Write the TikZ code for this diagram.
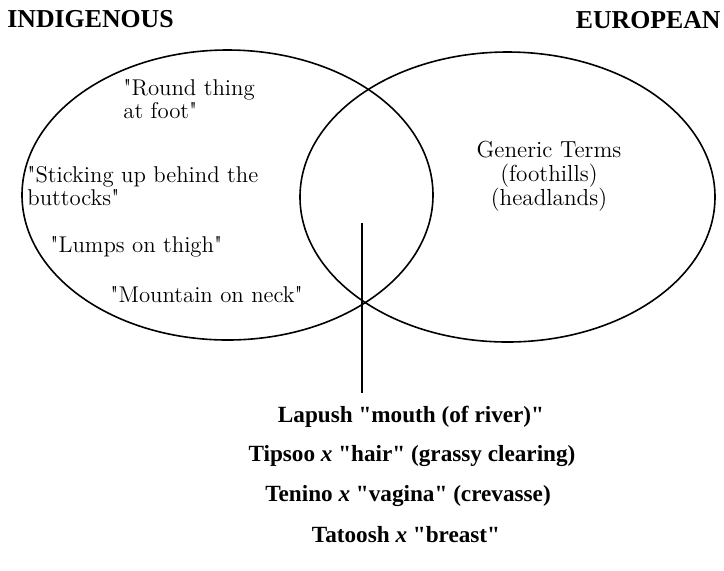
\documentclass[tikz,border=0pt]{standalone}
\usepackage{fontspec}
\newfontfamily\schoolfont{Liberation Serif}
\newfontfamily\termfont{Latin Modern Roman}
\usetikzlibrary{positioning,shapes.geometric}
\tikzset{
  ring/.style={draw,thick,ellipse,inner sep=0pt},
  head/.style={font=\schoolfont\fontsize{12.9}{14}\selectfont\bfseries,inner sep=0pt},
  term/.style={font=\termfont\fontsize{11.4}{10.3}\selectfont,inner sep=0pt,align=left},
  place/.style={font=\schoolfont\fontsize{11.6}{12}\selectfont\bfseries,inner sep=0pt}
}

\begin{document}
\begin{tikzpicture}[x=0.5pt,y=-0.5pt]
  \useasboundingbox (0,0) rectangle (724,570);
  % the two sets
  \node[ring,minimum width=205.5pt,minimum height=145pt] (indig) at (227.5,195) {};
  \node[ring,minimum width=207.5pt,minimum height=145pt] (europ) at (507.5,197) {};
  \node[head,anchor=base west] (indiglab) at (7,27) {INDIGENOUS};
  \node[head,anchor=base east] (europlab) at (721,28) {EUROPEAN};
  % indigenous terms
  \node[term,anchor=base west] (round) at (123,118) {"Round thing\\at foot"};
  \node[term,anchor=base west] (stick) at (27,205) {"Sticking up behind the\\buttocks"};
  \node[term,anchor=base west] (lumps) at (50,252) {"Lumps on thigh"};
  \node[term,anchor=base west] (mount) at (110,302) {"Mountain on neck"};
  % european terms
  \node[term,align=center,anchor=base,font=\termfont\fontsize{11.6}{12}\selectfont] (generic) at (549,205) {Generic Terms\\(foothills)\\(headlands)};
  % shared names
  \coordinate (stemtop) at (362,223);
  \coordinate (stemend) at (362,393);
  \draw[thick] (stemtop) -- (stemend);
  \node[place,anchor=base] (lapush) at (411,422) {Lapush "mouth (of river)"};
  \node[place,anchor=base] (tipsoo) at (412,461) {Tipsoo \textit{x} "hair" (grassy clearing)};
  \node[place,anchor=base] (tenino) at (408,501) {Tenino \textit{x} "vagina" (crevasse)};
  \node[place,anchor=base] (tatoosh) at (406,542) {Tatoosh \textit{x} "breast"};
\end{tikzpicture}
\end{document}
